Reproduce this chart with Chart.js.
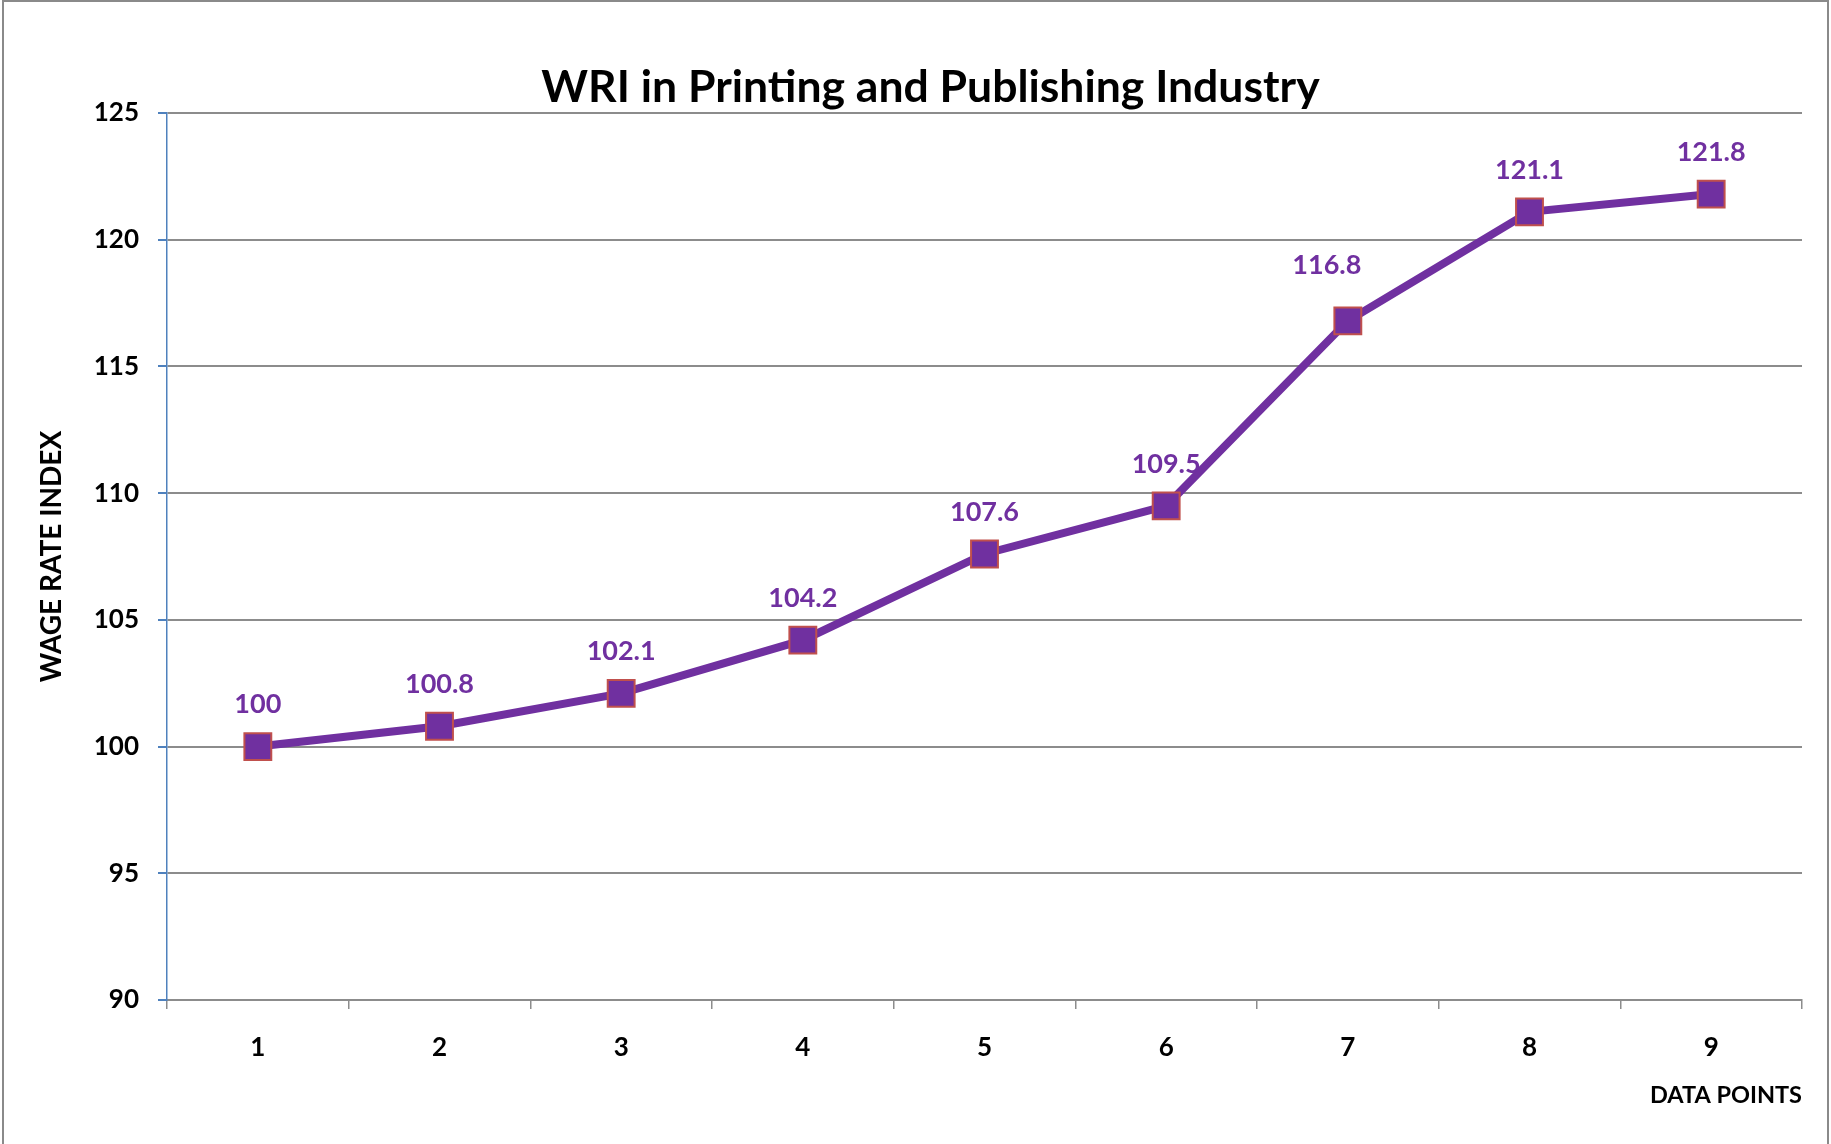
<!DOCTYPE html>
<html>
<head>
<meta charset="utf-8">
<title>WRI in Printing and Publishing Industry</title>
<script src="https://cdn.jsdelivr.net/npm/chart.js@4.4.1/dist/chart.umd.min.js"></script>
<style>
    html, body { margin: 0; padding: 0; background: #fff; overflow: hidden; }
    #wrap { position: relative; width: 1831px; height: 1144px; }
</style>
</head>
<body>
<div id="wrap"><canvas id="wriChart"></canvas></div>
<script>
const chartTitle = "WRI in Printing and Publishing Industry";
const categories = ["1", "2", "3", "4", "5", "6", "7", "8", "9"];
const wriValues = [100, 100.8, 102.1, 104.2, 107.6, 109.5, 116.8, 121.1, 121.8];
const yMin = 90;
const yMax = 125;
const yStep = 5;

// Excel moved a couple of labels by hand
const labelNudge = { 6: { dx: -21, dy: -14 } };

const purple = "#7030A0";
const gridGray = "#8c8c8c";
const axisBlue = "#4F81BD";
const fontFamily = "Lato, 'Open Sans', sans-serif";

const frameAndTitle = {
    id: "frameAndTitle",
    beforeDraw(chart) {
        const ctx = chart.ctx;
        ctx.save();
        ctx.fillStyle = "#fff";
        ctx.fillRect(0, 0, chart.width, chart.height);
        ctx.restore();
    },
    afterDraw(chart) {
        const ctx = chart.ctx;
        ctx.save();
        ctx.strokeStyle = "#8a8a8a";
        ctx.lineWidth = 2;
        ctx.beginPath();
        ctx.moveTo(3, chart.height + 5);
        ctx.lineTo(3, 1);
        ctx.lineTo(chart.width - 3, 1);
        ctx.lineTo(chart.width - 3, chart.height + 5);
        ctx.stroke();

        ctx.fillStyle = "#000";
        ctx.font = "bold 44.5px " + fontFamily;
        ctx.textAlign = "center";
        ctx.textBaseline = "alphabetic";
        ctx.fillText(chartTitle, chart.width / 2 + 15, 102);
        ctx.restore();
    }
};

const pointLabels = {
    id: "pointLabels",
    afterDatasetsDraw(chart) {
        const ctx = chart.ctx;
        const meta = chart.getDatasetMeta(0);
        ctx.save();
        ctx.fillStyle = purple;
        ctx.font = "bold 27px " + fontFamily;
        ctx.textAlign = "center";
        ctx.textBaseline = "middle";
        meta.data.forEach((pt, i) => {
            const n = labelNudge[i] || { dx: 0, dy: 0 };
            ctx.fillText(String(wriValues[i]), pt.x + n.dx, pt.y - 42 + n.dy);
        });
        ctx.restore();
    }
};

new Chart(document.getElementById("wriChart"), {
    type: "line",
    data: {
        labels: categories,
        datasets: [{
            label: "WRI",
            data: wriValues,
            borderColor: purple,
            borderWidth: 8,
            backgroundColor: purple,
            pointStyle: "rect",
            pointRadius: 19,
            pointHoverRadius: 19,
            pointBackgroundColor: purple,
            pointBorderColor: "#C0504D",
            pointBorderWidth: 2,
            tension: 0
        }]
    },
    options: {
        responsive: true,
        maintainAspectRatio: false,
        animation: false,
        events: [],
        layout: { padding: { left: 0, right: 29, top: 113, bottom: 0 } },
        plugins: {
            legend: { display: false },
            title: { display: false },
            tooltip: { enabled: false }
        },
        scales: {
            x: {
                offset: true,
                afterFit: s => { s.height = 144; },
                grid: {
                    offset: true,
                    drawOnChartArea: false,
                    drawTicks: true,
                    tickLength: 9,
                    color: gridGray,
                    lineWidth: 1.5
                },
                border: { color: gridGray, width: 2 },
                ticks: {
                    color: "#000",
                    padding: 23,
                    font: { family: fontFamily, size: 26, weight: "bold" }
                },
                title: {
                    display: true,
                    text: "DATA POINTS",
                    align: "end",
                    color: "#000",
                    padding: { top: 0, bottom: 34 },
                    font: { family: fontFamily, size: 23.5, weight: "bold" }
                }
            },
            y: {
                min: yMin,
                max: yMax,
                afterFit: s => { s.width = 167; },
                grid: {
                    color: gridGray,
                    lineWidth: 2,
                    tickColor: axisBlue,
                    tickLength: 9
                },
                border: { color: axisBlue, width: 1.5 },
                ticks: {
                    stepSize: yStep,
                    color: "#000",
                    padding: 19,
                    font: { family: fontFamily, size: 26, weight: "bold" }
                },
                title: {
                    display: true,
                    text: "WAGE RATE INDEX",
                    color: "#000",
                    padding: { top: 35, bottom: 0 },
                    font: { family: fontFamily, size: 28, weight: "bold" }
                }
            }
        }
    },
    plugins: [frameAndTitle, pointLabels]
});
</script>
</body>
</html>
